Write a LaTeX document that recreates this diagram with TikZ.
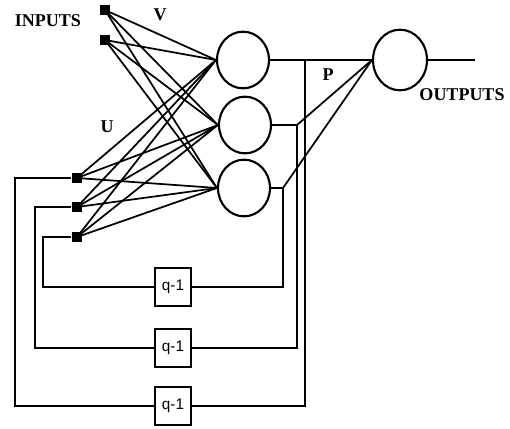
\documentclass[tikz,border=0pt]{standalone}
\usepackage{fontspec}
\setmainfont{Liberation Serif}
\setsansfont{Liberation Sans}
\usetikzlibrary{shapes.geometric}

\begin{document}
\begin{tikzpicture}[x=0.75pt,y=-0.75pt,line width=1.6pt,
    neuron/.style={draw,ellipse,minimum width=39pt,minimum height=42.5pt,inner sep=0pt},
    unit/.style={fill=black,minimum size=7.5pt,inner sep=0pt},
    delaybox/.style={draw,fill=white,minimum width=27pt,minimum height=28pt,
                     inner sep=0pt,font=\sffamily\fontsize{11.5}{11.5}\selectfont},
    lbl/.style={font=\bfseries\fontsize{13.5}{13.5}\selectfont},
    fan/.style={line width=1.3pt}]

  \useasboundingbox (0,0) rectangle (510,428);

  % input and context units
  \node[unit] (in1) at (105,10) {};
  \node[unit] (in2) at (105,40) {};
  \node[unit] (ctx1) at (77,178) {};
  \node[unit] (ctx2) at (77,207) {};
  \node[unit] (ctx3) at (77,237) {};

  % hidden and output neurons
  \node[neuron] (h1) at (243,60) {};
  \node[neuron] (h2) at (245,125) {};
  \node[neuron] (h3) at (244,188) {};
  \node[neuron,minimum width=40.5pt,minimum height=45.5pt] (out) at (400,60) {};

  % delays
  \node[delaybox] (d1) at (173,287) {q-1};
  \node[delaybox] (d2) at (173,348) {q-1};
  \node[delaybox] (d3) at (173,406) {q-1};

  \node[lbl] (inputs) at (48,21) {INPUTS};
  \node[lbl] (lv) at (160,15) {V};
  \node[lbl] (lu) at (107,127) {U};
  \node[lbl] (lp) at (328,75) {P};
  \node[lbl] (outputs) at (462,95) {OUTPUTS};

  % full connections to the hidden layer
  \foreach \s in {in1,in2,ctx1,ctx2,ctx3}
    \foreach \h in {h1,h2,h3}
      \draw[fan] (\s.center) -- (\h.west);

  % hidden to output
  \coordinate (t1) at (305,60);
  \coordinate (t2) at (297,125);
  \coordinate (t3) at (283,188);
  \coordinate (o1) at (475,60);
  \draw (h1.east) -- (out.west);
  \draw (h2.east) -- (t2);
  \draw (h3.east) -- (t3);
  \draw[fan] (out.west) -- (t2);
  \draw[fan] (out.west) -- (t3);
  \draw (out.east) -- (o1);

  % feedback loops
  \coordinate (l1) at (43,237);
  \coordinate (l2) at (35,207);
  \coordinate (l3) at (15,178);
  \draw (t3) |- (d1.east);
  \draw (d1.west) -| (l1) -- (ctx3.west);
  \draw (t2) |- (d2.east);
  \draw (d2.west) -| (l2) -- (ctx2.west);
  \draw (t1) |- (d3.east);
  \draw (d3.west) -| (l3) -- (ctx1.west);
\end{tikzpicture}
\end{document}
